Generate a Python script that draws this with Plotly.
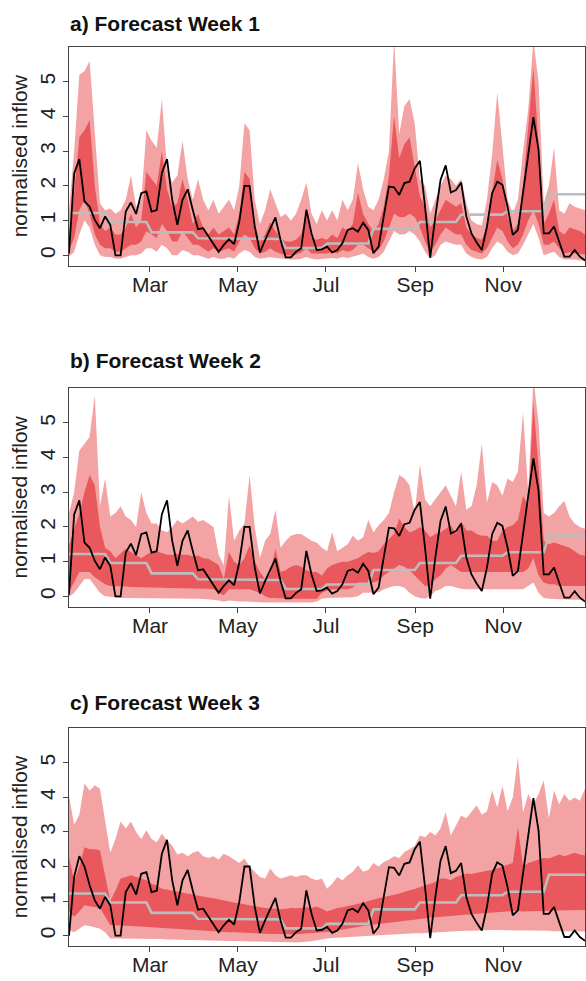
import pandas as pd
import plotly.graph_objects as go

W, H = 586, 981

# time axis: 101 forecast dates across the year
dates = pd.date_range("2018-01-03 20:00", "2018-12-27 17:00", periods=101)

# monthly climatology (grey line), Jan..Dec
clim_monthly = [1.22, 0.96, 0.66, 0.49, 0.47, 0.21, 0.34, 0.76, 0.96, 1.17, 1.27, 1.76]

# observed normalised inflow (black line)
obs = [0.05, 2.36, 2.77, 1.55, 1.4, 1.02, 0.78, 1.12, 0.88, 0.0,
       0.0, 1.26, 1.52, 1.19, 1.79, 1.84, 1.26, 1.3, 2.37, 2.77,
       1.6, 0.88, 1.6, 1.9, 1.3, 0.75, 0.78, 0.54, 0.33, 0.1,
       0.3, 0.46, 0.32, 0.97, 2.0, 2.0, 0.83, 0.08, 0.44, 0.75,
       1.09, 0.44, -0.06, -0.06, 0.1, 0.2, 1.31, 0.63, 0.15, 0.17,
       0.25, 0.08, 0.15, 0.35, 0.73, 0.78, 0.68, 0.94, 0.73, 0.06,
       0.25, 1.12, 1.98, 1.96, 1.74, 2.08, 2.12, 2.5, 2.72, 1.4,
       -0.07, 1.12, 2.17, 2.59, 1.81, 1.88, 2.1, 1.12, 0.63, 0.37,
       0.15, 0.83, 1.79, 2.12, 2.03, 1.4, 0.59, 0.73, 1.79, 2.85,
       3.98, 3.04, 0.63, 0.63, 0.83, 0.39, -0.04, -0.04, 0.15, -0.04, -0.15]
# week-3 panel: first values differ
obs_w3_start = [0.0, 1.7, 2.3, 2.0, 1.46]

# Week 1 bands: outer (light) and inner (dark) ranges
w1_outer_hi = [1.3, 3.0, 5.2, 5.3, 5.6, 3.5, 1.5, 1.3, 1.35, 1.2,
               1.3, 1.6, 2.3, 1.4, 1.6, 3.6, 3.3, 3.1, 4.5, 2.5,
               2.1, 2.3, 3.3, 2.2, 1.6, 2.2, 1.6, 1.3, 1.6, 1.2,
               1.4, 1.6, 1.3, 2.0, 3.8, 3.6, 1.6, 0.9, 1.3, 1.9,
               1.5, 1.1, 1.2, 1.0, 1.2, 1.6, 2.1, 1.2, 0.9, 1.3,
               1.0, 1.3, 1.0, 1.6, 1.3, 1.6, 2.65, 1.9, 1.4, 1.3,
               1.6, 2.2, 3.0, 6.2, 3.5, 4.3, 4.5, 3.8, 2.2, 2.0,
               1.2, 1.6, 2.0, 2.3, 2.2, 2.0, 2.2, 1.5, 1.0, 0.9,
               0.85, 1.6, 2.9, 4.7, 3.2, 1.6, 1.2, 1.6, 3.0, 4.2,
               6.2, 5.0, 1.5, 2.0, 3.1, 1.3, 1.2, 1.5, 1.4, 1.35, 1.3]
w1_inner_hi = [0.6, 1.8, 3.4, 3.6, 3.9, 2.0, 0.9, 0.7, 0.8, 0.6,
               0.6, 0.8, 1.2, 0.8, 1.0, 2.4, 2.2, 2.0, 3.0, 1.9,
               1.4, 1.5, 2.2, 1.6, 0.9, 1.2, 0.8, 0.6, 0.8, 0.6,
               0.7, 0.8, 0.6, 1.2, 2.4, 2.2, 0.9, 0.4, 0.6, 0.95,
               0.7, 0.5, 0.4, 0.4, 0.45, 0.6, 1.2, 0.5, 0.45, 0.5,
               0.45, 0.6, 0.5, 0.8, 0.7, 0.9, 1.8, 1.2, 0.9, 0.7,
               0.9, 1.4, 2.3, 4.0, 2.8, 3.2, 3.4, 2.5, 1.7, 1.4,
               0.8, 1.0, 1.3, 1.6, 1.5, 1.4, 1.5, 0.8, 0.6, 0.5,
               0.45, 0.8, 1.8, 2.75, 2.2, 1.1, 0.7, 0.9, 2.0, 3.6,
               5.4, 3.2, 0.9, 1.2, 1.6, 0.7, 0.6, 0.8, 0.75, 0.7, 0.6]
w1_inner_lo = [0.15, 0.5, 1.3, 1.6, 1.2, 0.6, 0.3, 0.2, 0.2, 0.1,
               0.1, 0.2, 0.3, 0.3, 0.4, 0.7, 0.6, 0.5, 0.9, 0.7,
               0.4, 0.4, 0.7, 0.5, 0.3, 0.3, 0.2, 0.1, 0.2, 0.1,
               0.15, 0.2, 0.1, 0.4, 0.6, 0.5, 0.2, 0.05, 0.1, 0.2,
               0.1, 0.05, 0.0, 0.0, 0.02, 0.08, 0.2, 0.05, 0.05, 0.05,
               0.05, 0.1, 0.05, 0.15, 0.1, 0.15, 0.3, 0.3, 0.2, 0.1,
               0.15, 0.4, 0.8, 1.2, 1.1, 1.1, 1.2, 1.1, 0.8, 0.4,
               0.1, 0.3, 0.6, 0.8, 0.7, 0.6, 0.6, 0.3, 0.15, 0.1,
               0.05, 0.2, 0.5, 0.8, 0.7, 0.4, 0.2, 0.3, 0.6, 1.0,
               1.3, 0.9, 0.3, 0.3, 0.4, 0.2, 0.05, 0.08, 0.06, 0.03, 0.02]
w1_outer_lo = [-0.05, 0.1, 0.6, 1.0, 0.8, 0.3, 0.0, -0.05, -0.05, -0.1,
               -0.1, -0.05, 0.0, 0.0, 0.05, 0.2, 0.2, 0.1, 0.3, 0.2,
               0.0, 0.0, 0.15, 0.1, 0.0, 0.0, -0.05, -0.1, -0.05, -0.1,
               -0.1, -0.05, -0.1, 0.05, 0.15, 0.1, -0.05, -0.1, -0.08, -0.05,
               -0.08, -0.1, -0.12, -0.12, -0.12, -0.1, -0.05, -0.1, -0.12, -0.1,
               -0.1, -0.08, -0.1, -0.05, -0.08, -0.05, 0.0, 0.05, -0.05, -0.1,
               -0.05, 0.1, 0.4, 0.7, 0.6, 0.6, 0.7, 0.6, 0.4, 0.1,
               -0.1, 0.0, 0.3, 0.4, 0.35, 0.3, 0.3, 0.05, -0.05, -0.1,
               -0.12, -0.05, 0.2, 0.4, 0.3, 0.1, 0.0, 0.05, 0.3, 0.6,
               0.9, 0.5, 0.0, 0.05, 0.1, -0.05, -0.12, -0.12, -0.12, -0.15, -0.15]

# Week 2 bands
w2_outer_hi = [2.4, 3.0, 4.2, 4.4, 4.6, 5.8, 2.6, 3.4, 2.3, 2.4,
               2.6, 2.3, 2.2, 2.0, 3.0, 2.4, 2.1, 2.1, 1.9, 1.85,
               2.0, 2.2, 2.1, 2.2, 2.3, 2.15, 2.2, 2.1, 2.0, 1.2,
               0.9, 2.9, 1.6, 1.9, 2.1, 3.5, 2.0, 1.1, 1.6, 1.8,
               2.5, 1.4, 1.6, 1.75, 1.8, 1.8, 1.7, 1.6, 1.55, 1.4,
               1.3, 1.85, 1.3, 1.4, 1.5, 1.75, 1.6, 1.7, 2.2, 1.85,
               2.05, 2.2, 2.4, 3.0, 3.5, 3.4, 3.2, 2.4, 3.8, 2.8,
               2.6, 2.8, 3.0, 3.2, 2.9, 2.6, 3.6, 2.5, 2.6, 3.2,
               4.4, 2.7, 3.3, 3.2, 2.9, 3.4, 3.3, 3.6, 5.3, 3.0,
               6.3, 5.0, 2.4, 2.3, 2.4, 2.6, 2.75, 2.3, 2.1, 2.0, 1.95]
w2_inner_hi = [1.45, 1.9, 2.4, 3.0, 3.5, 3.2, 2.0, 1.4, 1.3, 1.1,
               1.25, 1.37, 1.28, 1.2, 1.1, 1.2, 1.28, 1.3, 1.25, 1.2,
               1.2, 1.22, 1.2, 1.2, 1.15, 1.18, 1.1, 1.08, 1.0, 0.9,
               0.5, 1.28, 1.0, 0.9, 1.1, 1.47, 1.0, 0.7, 0.5, 0.65,
               1.37, 0.7, 0.75, 0.85, 0.9, 0.85, 0.75, 0.7, 0.7, 0.6,
               0.8, 0.9, 0.95, 1.0, 1.0, 1.05, 1.1, 1.2, 1.28, 1.25,
               1.3, 1.5, 1.65, 1.8, 2.24, 2.0, 1.85, 1.9, 2.0, 1.9,
               1.7, 1.8, 1.85, 1.95, 2.05, 1.8, 2.15, 1.9, 1.9, 1.8,
               1.75, 1.75, 1.6, 1.6, 1.9, 2.0, 2.05, 2.2, 2.9, 2.6,
               5.6, 3.7, 1.6, 1.5, 1.55, 1.5, 1.45, 1.4, 1.3, 1.2, 1.17]
w2_inner_lo = [0.12, 0.4, 0.7, 0.7, 0.7, 0.55, 0.45, 0.35, 0.3, 0.3,
               0.28, 0.28, 0.27, 0.27, 0.26, 0.26, 0.25, 0.25, 0.25, 0.24,
               0.24, 0.24, 0.24, 0.23, 0.23, 0.23, 0.22, 0.22, 0.2, 0.1,
               0.03, 0.2, 0.2, 0.2, 0.2, 0.2, 0.15, 0.1, 0.0, -0.05,
               -0.05, -0.07, -0.07, -0.07, -0.07, -0.07, -0.07, -0.07, -0.07, 0.1,
               0.17, 0.2, 0.2, 0.2, 0.2, 0.25, 0.4, 0.4, 0.4, 0.4,
               0.45, 0.6, 0.7, 0.8, 0.9, 0.85, 0.75, 0.6, 0.45, 0.3,
               0.3, 0.5, 0.6, 0.8, 0.9, 0.8, 0.7, 0.7, 0.7, 0.7,
               0.7, 0.7, 0.7, 0.7, 0.7, 0.7, 0.7, 0.7, 0.7, 0.8,
               1.1, 0.6, 0.4, 0.35, 0.35, 0.3, 0.3, 0.3, 0.3, 0.3, 0.3]
w2_outer_lo = [-0.02, 0.1, 0.3, 0.5, 0.5, 0.3, 0.1, 0.0, -0.02, -0.04,
               -0.05, -0.05, -0.05, -0.06, -0.06, -0.06, -0.06, -0.07, -0.07, -0.07,
               -0.07, -0.07, -0.07, -0.07, -0.07, -0.07, -0.08, -0.08, -0.1, -0.12,
               -0.16, -0.12, -0.14, -0.15, -0.15, -0.15, -0.16, -0.17, -0.18, -0.18,
               -0.18, -0.18, -0.18, -0.18, -0.18, -0.18, -0.18, -0.18, -0.15, -0.07,
               -0.05, -0.05, -0.05, -0.05, -0.05, -0.03, 0.0, 0.1, 0.1, 0.1,
               0.12, 0.2, 0.25, 0.3, 0.3, 0.25, 0.1, 0.0, -0.05, -0.07,
               0.0, 0.15, 0.2, 0.3, 0.3, 0.25, 0.22, 0.2, 0.2, 0.2,
               0.2, 0.2, 0.2, 0.2, 0.2, 0.2, 0.2, 0.2, 0.2, 0.3,
               0.4, 0.1, -0.05, -0.07, -0.08, -0.08, -0.09, -0.1, -0.1, -0.1, -0.1]

# Week 3 bands
w3_outer_hi = [4.05, 3.2, 3.5, 4.4, 4.2, 4.35, 4.25, 3.3, 2.4, 2.8,
               3.3, 3.1, 3.3, 3.0, 2.8, 3.05, 2.8, 2.7, 2.95, 2.75,
               2.6, 2.35, 2.4, 2.3, 2.4, 2.45, 2.3, 2.25, 2.3, 2.2,
               2.37, 2.3, 2.2, 2.1, 2.23, 2.0, 1.85, 1.7, 1.65, 1.94,
               1.75, 1.65, 1.7, 1.75, 1.7, 1.75, 1.75, 1.65, 1.6, 1.65,
               1.36, 1.5, 1.7, 1.6, 1.75, 1.85, 2.04, 1.85, 1.9, 2.1,
               2.0, 2.13, 2.2, 2.3, 2.25, 2.42, 2.5, 2.6, 2.9, 2.85,
               3.0, 2.9, 3.1, 3.57, 2.9, 3.2, 3.48, 3.4, 3.6, 3.77,
               3.5, 3.6, 4.2, 3.7, 4.34, 3.6, 4.0, 5.16, 3.57, 4.1,
               3.8, 4.1, 4.49, 3.4, 4.2, 3.8, 4.1, 3.9, 4.0, 3.9, 4.25]
w3_inner_hi = [2.28, 1.56, 2.0, 2.56, 2.5, 2.5, 2.47, 1.75, 1.0, 1.3,
               1.65, 1.7, 1.75, 1.7, 1.65, 1.6, 1.5, 1.45, 1.36, 1.33,
               1.3, 1.27, 1.25, 1.2, 1.18, 1.15, 1.12, 1.1, 1.08, 1.05,
               1.0, 0.98, 0.96, 0.94, 0.9, 0.88, 0.85, 0.82, 0.8, 0.79,
               0.78, 0.76, 0.78, 0.8, 0.79, 0.8, 0.82, 0.8, 0.84, 0.78,
               0.7, 0.75, 0.8, 0.82, 0.85, 0.88, 0.92, 0.95, 1.0, 1.05,
               1.08, 1.12, 1.15, 1.2, 1.22, 1.27, 1.3, 1.35, 1.4, 1.45,
               1.5, 1.55, 1.65, 1.65, 1.6, 1.7, 1.75, 1.8, 1.78, 1.82,
               1.85, 1.88, 1.9, 1.95, 2.0, 2.05, 2.1, 3.14, 2.0, 2.1,
               2.15, 2.2, 2.25, 2.23, 2.3, 2.35, 2.3, 2.35, 2.4, 2.35, 2.32]
w3_inner_lo = [0.7, 0.55, 0.7, 0.88, 0.85, 0.82, 0.8, 0.55, 0.3, 0.3,
               0.3, 0.29, 0.28, 0.27, 0.26, 0.25, 0.24, 0.23, 0.22, 0.21,
               0.2, 0.19, 0.18, 0.17, 0.16, 0.15, 0.14, 0.13, 0.12, 0.12,
               0.11, 0.1, 0.1, 0.09, 0.08, 0.08, 0.07, 0.06, 0.06, 0.05,
               0.05, 0.04, 0.04, 0.04, 0.04, 0.05, 0.05, 0.06, 0.07, 0.08,
               0.1, 0.12, 0.15, 0.18, 0.2, 0.22, 0.25, 0.28, 0.3, 0.32,
               0.34, 0.36, 0.38, 0.4, 0.42, 0.44, 0.46, 0.48, 0.5, 0.51,
               0.52, 0.53, 0.55, 0.56, 0.57, 0.58, 0.6, 0.61, 0.62, 0.63,
               0.64, 0.65, 0.66, 0.67, 0.68, 0.69, 0.7, 0.72, 0.7, 0.7,
               0.71, 0.72, 0.72, 0.72, 0.73, 0.73, 0.73, 0.74, 0.74, 0.74, 0.74]
w3_outer_lo = [0.16, 0.1, 0.2, 0.3, 0.28, 0.25, 0.2, 0.1, -0.08, -0.08,
               -0.08, -0.08, -0.09, -0.09, -0.09, -0.1, -0.1, -0.1, -0.1, -0.11,
               -0.11, -0.12, -0.12, -0.12, -0.13, -0.13, -0.13, -0.14, -0.14, -0.15,
               -0.15, -0.15, -0.16, -0.16, -0.16, -0.17, -0.17, -0.17, -0.18, -0.18,
               -0.18, -0.19, -0.19, -0.19, -0.2, -0.2, -0.18, -0.16, -0.13, -0.1,
               -0.08, -0.07, -0.06, -0.05, -0.05, -0.04, -0.03, -0.02, -0.01, 0.0,
               0.01, 0.02, 0.03, 0.04, 0.05, 0.06, 0.06, 0.07, 0.07, 0.08,
               0.09, 0.1, 0.1, 0.11, 0.12, 0.13, 0.13, 0.14, 0.14, 0.15,
               0.15, 0.16, 0.16, 0.16, 0.16, 0.16, 0.16, 0.16, 0.15, 0.15,
               0.15, 0.14, 0.14, 0.14, 0.13, 0.13, 0.13, 0.12, 0.12, 0.12, 0.12]

titles = ["a) Forecast Week 1", "b) Forecast Week 2", "c) Forecast Week 3"]
y_ticks = [0, 1, 2, 3, 4, 5]

clim = [clim_monthly[d.month - 1] for d in dates]
obs_w3 = obs_w3_start + obs[len(obs_w3_start):]

panels = [
    (w1_outer_lo, w1_inner_lo, w1_inner_hi, w1_outer_hi, obs),
    (w2_outer_lo, w2_inner_lo, w2_inner_hi, w2_outer_hi, obs),
    (w3_outer_lo, w3_inner_lo, w3_inner_hi, w3_outer_hi, obs_w3),
]

LIGHT = "#F4A3A4"
DARK = "#E8585C"
GREY = "#BDBDBD"
FONT = "Liberation Sans, Arial, sans-serif"

# pixel geometry of plot frames (top, bottom) and title centres
frames = [(47, 265.7), (388.3, 606.7), (728.3, 946.0)]
title_y = [23.5, 360.5, 702.0]
X0, X1 = 69, 585

fig = go.Figure()
for k, (olo, ilo, ihi, ohi, ob) in enumerate(panels):
    xa = "x" if k == 0 else f"x{k+1}"
    ya = "y" if k == 0 else f"y{k+1}"
    common = dict(x=dates, xaxis=xa, yaxis=ya, mode="lines", hoverinfo="skip", showlegend=False)
    fig.add_trace(go.Scatter(y=olo, line=dict(width=0, color=LIGHT), **common))
    fig.add_trace(go.Scatter(y=ohi, line=dict(width=0, color=LIGHT), fill="tonexty", fillcolor=LIGHT, **common))
    fig.add_trace(go.Scatter(y=ilo, line=dict(width=0, color=DARK), **common))
    fig.add_trace(go.Scatter(y=ihi, line=dict(width=0, color=DARK), fill="tonexty", fillcolor=DARK, **common))
    fig.add_trace(go.Scatter(y=clim, line=dict(width=2.6, color=GREY), **common))
    fig.add_trace(go.Scatter(y=ob, line=dict(width=1.8, color="black"), **common))

    top, bot = frames[k]
    axkw = dict(showline=True, mirror=True, linecolor="#444", linewidth=1,
                ticks="outside", ticklen=5, tickcolor="#444", tickwidth=1,
                showgrid=False, zeroline=False,
                tickfont=dict(family=FONT, size=21, color="#222"))
    fig.layout[("xaxis" if k == 0 else f"xaxis{k+1}")] = dict(
        domain=[X0 / W, X1 / W], anchor=ya, type="date",
        range=[dates[0], dates[-1]], tick0="2018-01-01", dtick="M2",
        tickformat="%b", ticklabelstandoff=-5, **axkw)
    fig.layout[("yaxis" if k == 0 else f"yaxis{k+1}")] = dict(
        domain=[1 - bot / H, 1 - top / H], anchor=xa, range=[-0.3, 6.0],
        tickvals=y_ticks, tickangle=-90, **axkw)

    fig.add_annotation(text=f"<b>{titles[k]}</b>", xref="paper", yref="paper",
                       x=(X0 - 1) / W, y=1 - title_y[k] / H, xanchor="left", yanchor="middle",
                       showarrow=False, font=dict(family=FONT, size=21, color="#111"))
    fig.add_annotation(text="normalised inflow", xref="paper", yref="paper",
                       x=19 / W, y=1 - (top + bot) / 2 / H, xanchor="center", yanchor="middle",
                       textangle=-90, showarrow=False,
                       font=dict(family=FONT, size=21, color="#222"))

fig.update_layout(width=W, height=H, margin=dict(l=0, r=0, t=0, b=0),
                  paper_bgcolor="white", plot_bgcolor="white")
fig.write_html("out.html", config={"displayModeBar": False},
               post_script="document.body.style.margin='0';")
